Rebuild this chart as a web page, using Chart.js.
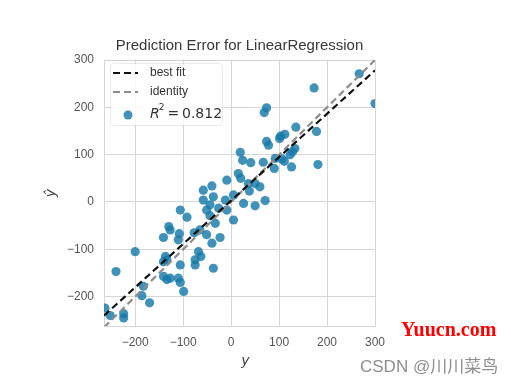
<!DOCTYPE html>
<html>
<head>
<meta charset="utf-8">
<script src="https://cdn.jsdelivr.net/npm/chart.js@4"></script>
<style>
  html, body { margin: 0; padding: 0; background: #fff; }
  #wrap { width: 511px; height: 385px; }
</style>
</head>
<body>
<div id="wrap"><canvas id="predError" width="511" height="385"></canvas></div>
<script>
const actualY = [267, 173, 300, 74, 69, 135, 178, 112, 103, 101, 74, 78, 133, 128, 123, 19, 24, 41, 67, 92,
  106, 111, 90, 126, 181, 15, 20, 36, 50, 60, 38, -9, -40, -58, -37, -58, -12, 5, 71, 26,
  50, -44, -26, -51, -106, -9, -92, -44, -33, 5, -130, -127, -108, -65, -23, -141, -110, -77, -51, -40,
  -200, -137, -141, -134, -106, -68, -63, -75, -75, -37, -240, -141, -134, -127, -110, -106, -99, -183, -186, -170,
  -263, -252, -224, -224];
const predictedY = [271, 241, 208, 199, 189, 158, 149, 143, 139, 134, 128, 120, 113, 106, 100, 105, 88, 83, 84, 92,
  91, 86, 71, 74, 79, 60, 50, 39, 39, 32, 23, 46, 34, 25, 11, 4, 4, 15, 3, -3,
  -8, -6, -13, -17, -17, -17, -32, -29, -45, -38, -52, -59, -67, -59, -75, -75, -80, -65, -69, -87,
  -105, -115, -126, -122, -133, -105, -115, -122, -133, -140, -147, -157, -164, -161, -161, -170, -189, -178, -198, -213,
  -224, -240, -236, -245];

const xTicks = [-200, -100, 0, 100, 200, 300];
const yTicks = [-200, -100, 0, 100, 200, 300];
const xRange = [-265, 300];
const yRange = [-262, 300];

const bestFit = { slope: 0.917, intercept: 3 };
const r2 = "0.812";

const pointColor = "rgba(22,122,168,0.82)";
const gridColor = "#d6d6d6";
const tickFont = { family: "Liberation Sans, Arial, sans-serif", size: 12 };
const minus = v => String(v).replace("-", "\u2212");

const fitLine = xRange.map(x => ({ x: x, y: bestFit.slope * x + bestFit.intercept }));
const identityLine = xRange.map(x => ({ x: x, y: x }));

const overlay = {
  id: "overlay",
  afterDraw(chart) {
    const c = chart.ctx;
    const a = chart.chartArea;
    c.save();

    // title
    c.fillStyle = "#383838";
    c.font = "15px Liberation Sans, Arial, sans-serif";
    c.textAlign = "center";
    c.textBaseline = "middle";
    c.fillText("Prediction Error for LinearRegression", (a.left + a.right) / 2, 46);

    // axis labels
    c.fillStyle = "#444";
    c.font = "italic 14px DejaVu Sans, sans-serif";
    c.fillText("y", (a.left + a.right) / 2 + 6, 361);
    c.save();
    c.translate(51, 193);
    c.rotate(-Math.PI / 2);
    c.fillText("\u0177", 0, 0);
    c.restore();

    // legend
    const lx = a.left + 6, ly = a.top + 3, lw = 112, lh = 62;
    c.fillStyle = "rgba(255,255,255,0.85)";
    c.strokeStyle = "rgba(0,0,0,0.08)";
    c.lineWidth = 1;
    c.beginPath();
    c.roundRect(lx + 0.5, ly + 0.5, lw, lh, 3);
    c.fill();
    c.stroke();

    c.lineWidth = 2.2;
    c.setLineDash([7, 4]);
    c.strokeStyle = "#111";
    c.beginPath(); c.moveTo(113, 73); c.lineTo(138, 73); c.stroke();
    c.strokeStyle = "#8c8c8c";
    c.beginPath(); c.moveTo(113, 92); c.lineTo(138, 92); c.stroke();
    c.setLineDash([]);

    c.fillStyle = pointColor;
    c.beginPath(); c.arc(128, 115, 4.5, 0, Math.PI * 2); c.fill();

    c.fillStyle = "#333";
    c.textAlign = "left";
    c.font = "12px Liberation Sans, Arial, sans-serif";
    c.fillText("best fit", 150, 73);
    c.fillText("identity", 150, 92);

    c.font = "italic 14px DejaVu Sans, sans-serif";
    c.fillText("R", 150, 114);
    let w = c.measureText("R").width;
    c.font = "9px DejaVu Sans, sans-serif";
    c.fillText("2", 150 + w - 1, 108);
    w += c.measureText("2").width - 1;
    c.font = "14px DejaVu Sans, sans-serif";
    c.fillText("=\u20090.812".replace("0.812", r2), 150 + w + 3, 114);

    // watermarks
    c.fillStyle = "#f00";
    c.font = "bold 20px Liberation Serif, serif";
    c.fillText("Yuucn.com", 401, 331);
    c.fillStyle = "#8e8e8e";
    c.font = "17px Liberation Sans, Noto Sans CJK SC, sans-serif";
    c.fillText("CSDN @川川菜鸟", 360, 367);

    c.restore();
  }
};

new Chart(document.getElementById("predError"), {
  type: "scatter",
  data: {
    datasets: [
      {
        type: "line",
        data: fitLine,
        borderColor: "#111",
        borderWidth: 2.2,
        borderDash: [7, 4],
        pointRadius: 0,
        fill: false,
        order: 0
      },
      {
        type: "line",
        data: identityLine,
        borderColor: "#8c8c8c",
        borderWidth: 2.2,
        borderDash: [7, 4],
        pointRadius: 0,
        fill: false,
        order: 1
      },
      {
        data: actualY.map((v, i) => ({ x: v, y: predictedY[i] })),
        backgroundColor: pointColor,
        borderWidth: 0,
        pointRadius: 4.6,
        order: 2
      }
    ]
  },
  options: {
    responsive: false,
    animation: false,
    layout: { padding: { top: 60, right: 136, left: 0, bottom: 0 } },
    plugins: { legend: { display: false }, title: { display: false }, tooltip: { enabled: false } },
    scales: {
      x: {
        type: "linear",
        min: xRange[0],
        max: xRange[1],
        afterBuildTicks: s => { s.ticks = xTicks.map(v => ({ value: v })); },
        afterFit: s => { s.height = 59; },
        ticks: { color: "#555", font: tickFont, padding: 9, maxRotation: 0, callback: minus },
        grid: { color: gridColor, lineWidth: 1, drawTicks: false },
        border: { color: gridColor, width: 1 }
      },
      y: {
        type: "linear",
        min: yRange[0],
        max: yRange[1],
        afterBuildTicks: s => { s.ticks = yTicks.map(v => ({ value: v })); },
        afterFit: s => { s.width = 104; },
        ticks: { color: "#555", font: tickFont, padding: 10, callback: minus },
        grid: { color: gridColor, lineWidth: 1, drawTicks: false },
        border: { color: gridColor, width: 1 }
      }
    }
  },
  plugins: [overlay]
});
</script>
</body>
</html>
